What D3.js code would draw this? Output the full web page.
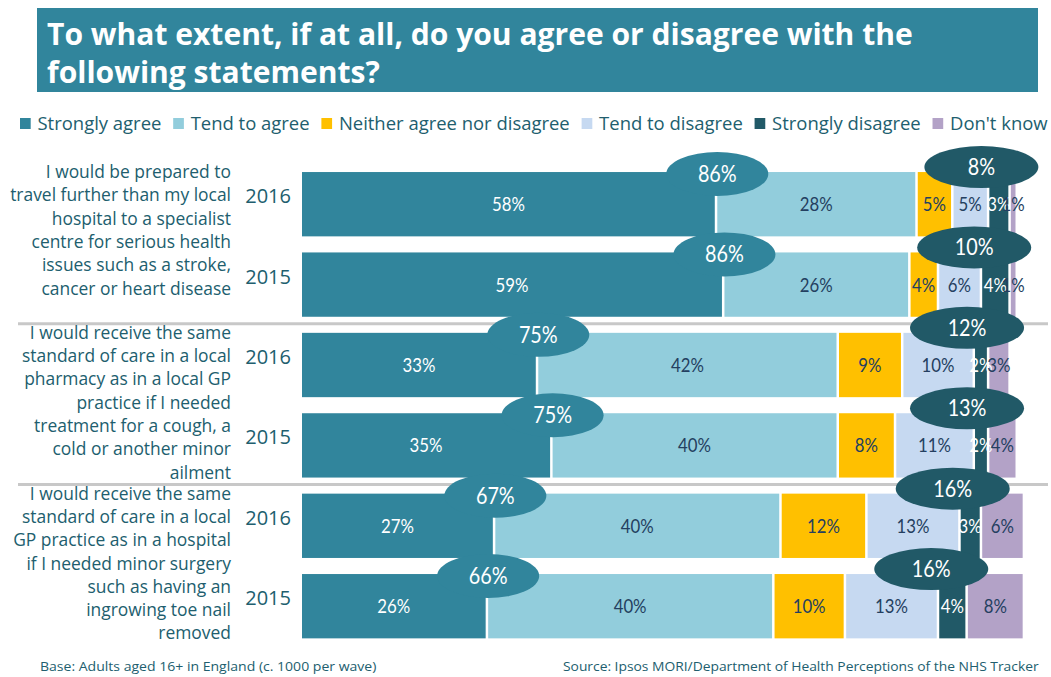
<!DOCTYPE html>
<html>
<head>
<meta charset="utf-8">
<script src="https://cdn.jsdelivr.net/npm/d3@7/dist/d3.min.js"></script>
<style>
  html, body { margin: 0; padding: 0; background: #fff; }
  svg { display: block; }
</style>
</head>
<body>
<svg id="chart" width="1051" height="677"></svg>
<script>
// ---- Data ----------------------------------------------------------------
const titleLines = [
  "To what extent, if at all, do you agree or disagree with the",
  "following statements?"
];

const categories = [
  "Strongly agree", "Tend to agree", "Neither agree nor disagree",
  "Tend to disagree", "Strongly disagree", "Don't know"
];

const statements = [
  ["I would be prepared to", "travel further than my local", "hospital to a specialist",
   "centre for serious health", "issues such as a stroke,", "cancer or heart disease"],
  ["I would receive the same", "standard of care in a local", "pharmacy as in a local GP",
   "practice if I needed", "treatment for a cough, a", "cold or another minor", "ailment"],
  ["I would receive the same", "standard of care in a local", "GP practice as in a hospital",
   "if I needed minor surgery", "such as having an", "ingrowing toe nail", "removed"]
];

const years = ["2016", "2015"];

// one array per statement/year row, in category order
const travel2016   = [58, 28, 5, 5, 3, 1];
const travel2015   = [59, 26, 4, 6, 4, 1];
const pharmacy2016 = [33, 42, 9, 10, 2, 3];
const pharmacy2015 = [35, 40, 8, 11, 2, 4];
const surgery2016  = [27, 40, 12, 13, 3, 6];
const surgery2015  = [26, 40, 10, 13, 4, 8];

const netAgree    = [86, 86, 75, 75, 67, 66];
const netDisagree = [8, 10, 12, 13, 16, 16];

const footnoteBase   = "Base: Adults aged 16+ in England (c. 1000 per wave)";
const footnoteSource = "Source: Ipsos MORI/Department of Health Perceptions of the NHS Tracker";

// ---- Styling ---------------------------------------------------------------
const colors = ["#31859C", "#92CDDC", "#FFC000", "#C6D9F1", "#215967", "#B3A2C7"];
const labelColors = ["#ffffff", "#243F60", "#243F60", "#243F60", "#ffffff", "#243F60"];
const textTeal = "#215E6E";
const uiFont = "'Open Sans', 'Noto Sans', sans-serif";
const numFont = "Lato, 'Open Sans', sans-serif";

const rows = [travel2016, travel2015, pharmacy2016, pharmacy2015, surgery2016, surgery2015]
  .map((vals, i) => ({
    id: i,
    group: Math.floor(i / 2),
    year: years[i % 2],
    values: vals,
    agree: netAgree[i],
    disagree: netDisagree[i]
  }));

const svg = d3.select("#chart");

// Scale a group horizontally so its content spans [x0, x0 + width]
function squeeze(g, x0, width) {
  const b = g.node().getBBox();
  const s = width / b.width;
  g.attr("transform", `translate(${x0},0) scale(${s},1) translate(${-b.x},0)`);
  return s;
}

// ---- Title -----------------------------------------------------------------
svg.append("rect")
  .attr("x", 37).attr("y", 8).attr("width", 1001).attr("height", 84)
  .attr("fill", colors[0]);

const titleG = svg.append("g");
const titleTexts = titleG.selectAll("text").data(titleLines).join("text")
  .attr("x", 0).attr("y", (d, i) => 45 + i * 38)
  .attr("font-family", uiFont).attr("font-weight", 700).attr("font-size", 30)
  .attr("fill", "#fff").text(d => d);
{
  const w = titleTexts.nodes()[0].getComputedTextLength();
  const s = 866 / w;
  titleG.attr("transform", `translate(47,0) scale(${s},1)`);
}

// ---- Legend ----------------------------------------------------------------
const legendG = svg.append("g");
{
  let cx = 0;
  categories.forEach((c, i) => {
    legendG.append("rect")
      .attr("x", cx).attr("y", 118).attr("width", 11).attr("height", 11)
      .attr("fill", colors[i]);
    const t = legendG.append("text")
      .attr("x", cx + 18).attr("y", 130)
      .attr("font-family", uiFont).attr("font-size", 19)
      .attr("fill", textTeal).text(c);
    cx += 18 + t.node().getComputedTextLength() + 12;
  });
}
squeeze(legendG, 20, 1028);

// ---- Scales ----------------------------------------------------------------
const x = d3.scaleLinear().domain([0, 100]).range([302, 1018]);
const y = d3.scaleBand().domain(rows.map(r => r.id))
  .range([164, 646.4]).paddingInner(0.2).paddingOuter(0.1);

// ---- Group separators ------------------------------------------------------
[1, 3].forEach(i => {
  const yy = (y(i) + y.bandwidth() + y(i + 1)) / 2 - 1;
  svg.append("line")
    .attr("x1", 18).attr("x2", 1048).attr("y1", yy).attr("y2", yy)
    .attr("stroke", "#C8C8C8").attr("stroke-width", 3);
});

// ---- Statement labels ------------------------------------------------------
const stmtG = svg.append("g");
statements.forEach((lines, gi) => {
  const top = y(gi * 2);
  stmtG.selectAll(null).data(lines).join("text")
    .attr("x", 0).attr("y", (d, i) => top + 6 + i * 23.3)
    .attr("text-anchor", "end")
    .attr("font-family", uiFont).attr("font-size", 17.5)
    .attr("fill", textTeal).text(d => d);
});
{
  const widest = d3.max(stmtG.selectAll("text").nodes(), n => n.getComputedTextLength());
  const s = 221 / widest;
  stmtG.attr("transform", `translate(231,0) scale(${s},1)`);
}

// ---- Year labels -----------------------------------------------------------
svg.append("g").selectAll("text").data(rows).join("text")
  .attr("x", 291)
  .attr("y", d => y(d.id) + y.bandwidth() / 2 - 1)
  .attr("text-anchor", "end")
  .attr("font-family", uiFont).attr("font-size", 20)
  .attr("fill", textTeal).text(d => d.year);

// ---- Bars ------------------------------------------------------------------
const segs = rows.flatMap(r => {
  let acc = 0;
  return r.values.map((v, k) => {
    const s = { row: r.id, k, v, x0: acc, x1: acc + v };
    acc += v;
    return s;
  });
});

const barG = svg.append("g");
barG.selectAll("rect").data(segs).join("rect")
  .attr("x", d => x(d.x0))
  .attr("y", d => y(d.row))
  .attr("width", d => Math.max(0, x(d.x1) - x(d.x0) - 2.5))
  .attr("height", y.bandwidth())
  .attr("fill", d => colors[d.k]);

barG.selectAll("text").data(segs).join("text")
  .attr("transform", d => `translate(${(x(d.x0) + x(d.x1) - 2.5) / 2},${y(d.row) + y.bandwidth() / 2 + 7}) scale(0.84,1)`)
  .attr("text-anchor", "middle")
  .attr("font-family", numFont).attr("font-weight", 400).attr("font-size", 20)
  .attr("fill", d => labelColors[d.k])
  .text(d => d.v + "%");

// ---- Net agree / net disagree bubbles --------------------------------------
const bubbleG = svg.append("g");
rows.forEach(r => {
  // net agree: sits on the boundary after "Strongly agree"
  const ax = x(r.values[0]);
  const ay = y(r.id) + 2;
  bubbleG.append("ellipse")
    .attr("cx", ax).attr("cy", ay).attr("rx", 51).attr("ry", 22)
    .attr("fill", colors[0]);
  bubbleG.append("text")
    .attr("transform", `translate(${ax},${ay + 8}) scale(0.86,1)`)
    .attr("text-anchor", "middle")
    .attr("font-family", numFont).attr("font-weight", 400).attr("font-size", 23)
    .attr("fill", "#fff").text(r.agree + "%");

  // net disagree: sits at the start of "Strongly disagree", nudged left
  const rx = 57;
  const sdStart = x(d3.sum(r.values.slice(0, 4))) - 8;
  const dx = Math.min(sdStart, 1041 - rx);
  const dy = y(r.id) - 5;
  bubbleG.append("ellipse")
    .attr("cx", dx).attr("cy", dy).attr("rx", rx).attr("ry", 21)
    .attr("fill", colors[4]);
  bubbleG.append("text")
    .attr("transform", `translate(${dx},${dy + 8}) scale(0.86,1)`)
    .attr("text-anchor", "middle")
    .attr("font-family", numFont).attr("font-weight", 400).attr("font-size", 23)
    .attr("fill", "#fff").text(r.disagree + "%");
});

// ---- Footnotes -------------------------------------------------------------
const baseG = svg.append("g");
baseG.append("text").attr("x", 0).attr("y", 671)
  .attr("font-family", uiFont).attr("font-size", 13)
  .attr("fill", textTeal).text(footnoteBase);
squeeze(baseG, 40, 337);

const srcG = svg.append("g");
srcG.append("text").attr("x", 0).attr("y", 671)
  .attr("font-family", uiFont).attr("font-size", 13)
  .attr("fill", textTeal).text(footnoteSource);
squeeze(srcG, 563, 477);
</script>
</body>
</html>
